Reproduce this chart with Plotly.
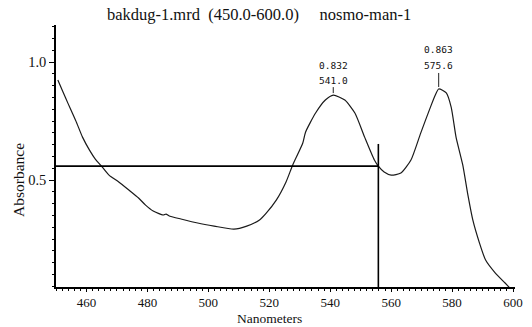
import plotly.graph_objects as go

# Spectrum data (wavelength nm, absorbance)
wavelength = [450.6, 452.3, 453.9, 455.5, 456.8, 458.7, 461.0, 462.9, 465.2, 467.4,
              470.6, 473.9, 477.1, 479.4, 481.9, 485.2, 486.1, 487.4, 491.0, 496.5,
              501.9, 508.4, 512.6, 516.8, 519.0, 522.3, 525.5, 527.7, 531.0, 531.9,
              535.2, 538.4, 541.0, 544.8, 548.1, 551.3, 554.5, 555.8, 557.7, 560.0,
              563.2, 566.5, 569.7, 572.9, 574.5, 575.6, 578.1, 579.7, 581.3, 583.5,
              585.2, 586.8, 589.0, 591.0, 594.2, 597.4, 599.0]
absorbance = [0.924, 0.873, 0.826, 0.780, 0.742, 0.682, 0.627, 0.589, 0.555, 0.521,
              0.492, 0.458, 0.424, 0.394, 0.369, 0.352, 0.356, 0.347, 0.335, 0.318,
              0.305, 0.292, 0.305, 0.331, 0.360, 0.415, 0.492, 0.564, 0.657, 0.703,
              0.784, 0.839, 0.860, 0.839, 0.784, 0.682, 0.585, 0.559, 0.534, 0.521,
              0.530, 0.585, 0.699, 0.809, 0.860, 0.886, 0.869, 0.809, 0.682, 0.564,
              0.436, 0.331, 0.233, 0.161, 0.106, 0.064, 0.042]

# Peak labels
peak_nm = [541.0, 575.6]
peak_abs_plot = [0.860, 0.886]
peak_value_text = ["0.832", "0.863"]
peak_nm_text = ["541.0", "575.6"]

# Cursor crosshair
cursor_nm = 555.8
cursor_abs = 0.559
cursor_top = 0.653
x_start = 450
y_bottom = 0.047

x_ticks = [460, 480, 500, 520, 540, 560, 580, 600]
y_ticks = [0.5, 1.0]
y_tick_text = ["0.5", "1.0"]

fig = go.Figure()
fig.add_trace(go.Scatter(x=wavelength, y=absorbance, mode="lines",
                         line=dict(color="#1a1a1a", width=1.2, shape="spline", smoothing=0.6),
                         hoverinfo="skip"))
fig.add_trace(go.Scatter(x=[x_start, cursor_nm], y=[cursor_abs, cursor_abs], mode="lines",
                         line=dict(color="#000", width=1.8), hoverinfo="skip"))
fig.add_trace(go.Scatter(x=[cursor_nm, cursor_nm], y=[y_bottom, cursor_top], mode="lines",
                         line=dict(color="#000", width=1.6), hoverinfo="skip"))

mono = dict(family="DejaVu Sans Mono", size=9.5, color="#111")
ay_lower = [-15, -23]
yshift_upper = [30, 39]
for i in range(len(peak_nm)):
    fig.add_annotation(x=peak_nm[i], y=peak_abs_plot[i], text=peak_nm_text[i],
                       showarrow=True, arrowhead=0, arrowwidth=1, arrowcolor="#222",
                       ax=0, ay=ay_lower[i], standoff=2, font=mono)
    fig.add_annotation(x=peak_nm[i], y=peak_abs_plot[i], text=peak_value_text[i],
                       showarrow=False, yshift=yshift_upper[i], yanchor="middle", font=mono)

serif = "Liberation Serif"
fig.add_annotation(xref="paper", yref="paper", x=0.466, y=-0.122, text="Nanometers",
                   showarrow=False, xanchor="center", yanchor="middle", borderpad=0,
                   font=dict(family=serif, size=13.5, color="#111"))
fig.add_annotation(xref="paper", yref="paper", x=-0.082, y=0.41, text="Absorbance",
                   showarrow=False, xanchor="center", yanchor="middle", textangle=-90,
                   font=dict(family=serif, size=15.5, color="#111"))

fig.update_layout(
    width=532, height=327,
    margin=dict(l=56, r=9, t=25, b=40),
    paper_bgcolor="white", plot_bgcolor="white",
    showlegend=False,
    title=dict(text="bakdug-1.mrd  (450.0-600.0)     nosmo-man-1",
               x=0.487, xanchor="center", y=0.957, yanchor="middle",
               font=dict(family=serif, size=16.5, color="#111")),
    font=dict(family=serif, size=14, color="#111"),
    xaxis=dict(range=[450, 600.65], tickvals=x_ticks, showgrid=False, zeroline=False,
               showline=True, linecolor="#000", linewidth=1.6,
               ticks="outside", ticklen=3, tickwidth=1.2, tickcolor="#000",
               minor=dict(dtick=2, ticks="outside", ticklen=2, tickcolor="#000", tickwidth=1),
               tickfont=dict(family=serif, size=13)),
    yaxis=dict(range=[0.047, 1.157], tickvals=y_ticks, ticktext=y_tick_text,
               showgrid=False, zeroline=False,
               showline=True, linecolor="#000", linewidth=1.6,
               ticks="outside", ticklen=5, tickwidth=1.2, tickcolor="#000",
               minor=dict(dtick=0.05, tick0=0, ticks="outside", ticklen=2, tickcolor="#000", tickwidth=1),
               tickfont=dict(family=serif, size=14.5)),
)

fig.write_html("out.html", config={"displayModeBar": False},
               post_script="document.body.style.margin='0';")
